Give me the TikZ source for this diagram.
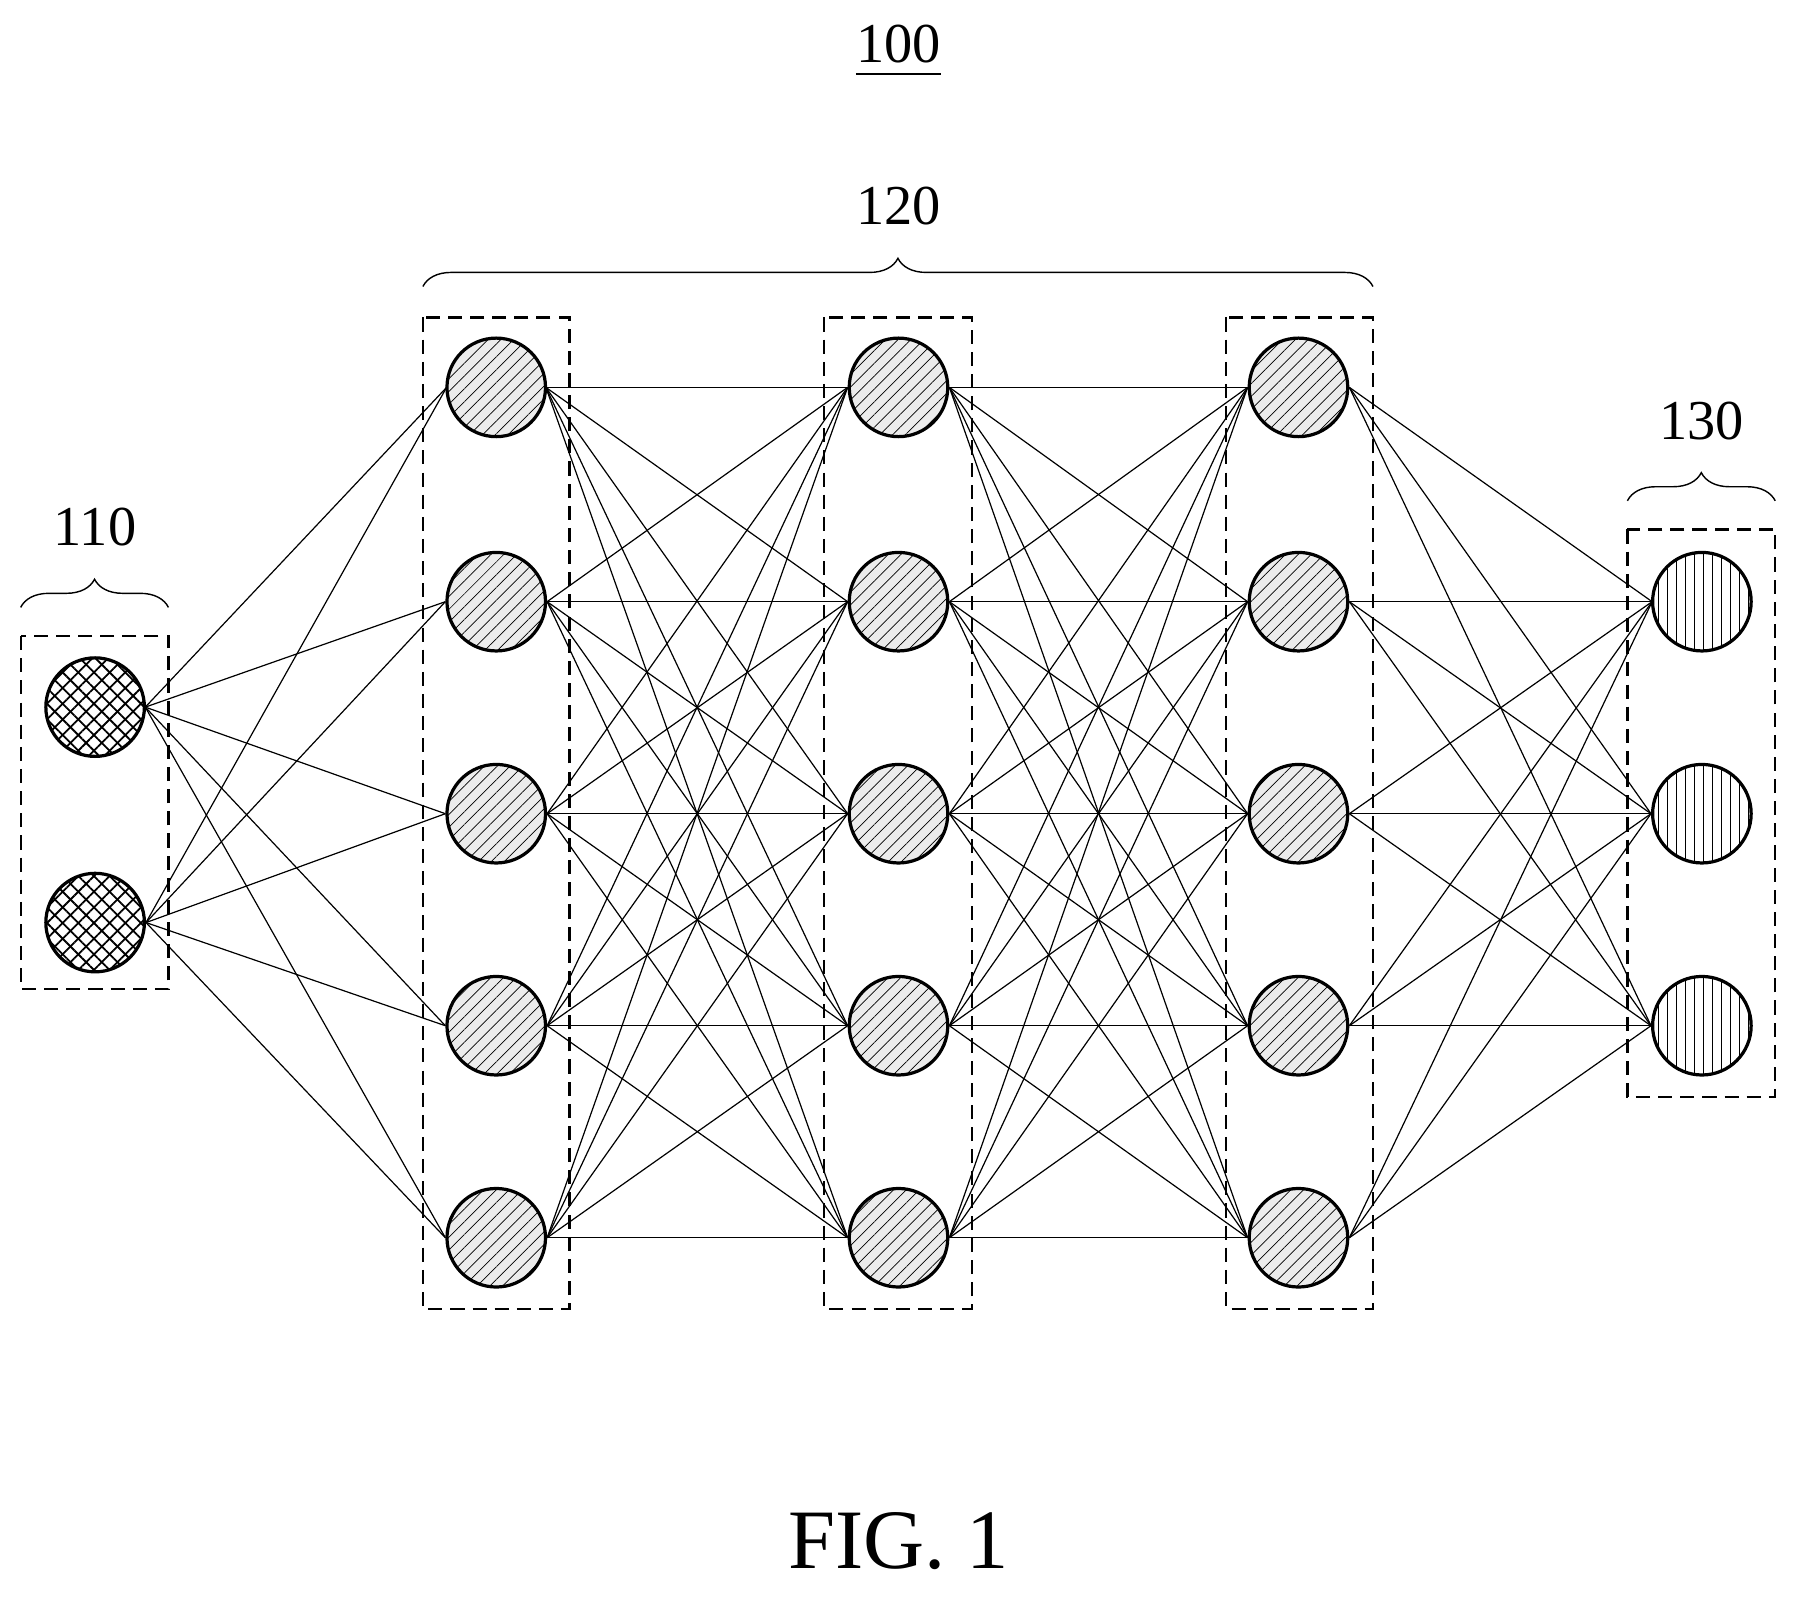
\documentclass[tikz,border=0pt]{standalone}
\usepackage{fontspec}
\setmainfont{Liberation Serif}
\usetikzlibrary{patterns.meta,decorations.pathreplacing}

\tikzset{
  neuron/.style={circle,draw,line width=1.6pt,minimum size=1.72cm,inner sep=0pt},
  inunit/.style={neuron,pattern={Lines[angle=45,distance=5.5pt,line width=0.9pt]},
    postaction={pattern={Lines[angle=-45,distance=5.5pt,line width=0.9pt]}}},
  hidunit/.style={neuron,preaction={fill=gray!15},pattern={Lines[angle=45,distance=4.5pt,line width=0.35pt]}},
  outunit/.style={neuron,pattern={Lines[angle=90,distance=4.5pt,line width=0.5pt]}},
  layerbox/.style={draw,dash pattern=on 7pt off 4pt,line width=1.1pt},
  link/.style={line width=0.6pt},
  grpbrace/.style={decorate,decoration={brace,amplitude=14pt},line width=0.7pt},
  tag/.style={font=\fontsize{28}{30}\selectfont}
}

\begin{document}
\begin{tikzpicture}[x=0.02cm,y=-0.02cm]
  \useasboundingbox (0,0) rectangle (1568,1393);

  % boxes
  \draw[layerbox] (18,555) rectangle (147,863);
  \draw[layerbox] (369,277) rectangle (497,1142);
  \draw[layerbox] (719,277) rectangle (848,1142);
  \draw[layerbox] (1070,277) rectangle (1198,1142);
  \draw[layerbox] (1420,462) rectangle (1549,957);

  % neurons
  \node[inunit] (i1) at (83,617) {};
  \node[inunit] (i2) at (83,805) {};
  \foreach \l/\x in {1/433,2/784,3/1133}
    \foreach \n/\y in {1/338,2/525,3/710,4/895,5/1080}
      \node[hidunit] (h\l\n) at (\x,\y) {};
  \foreach \n/\y in {1/525,2/710,3/895}
    \node[outunit] (o\n) at (1485,\y) {};

  % links
  \foreach \a in {1,2}
    \foreach \b in {1,...,5}
      \draw[link] (i\a.east) -- (h1\b.west);
  \foreach \a in {1,...,5}
    \foreach \b in {1,...,5} {
      \draw[link] (h1\a.east) -- (h2\b.west);
      \draw[link] (h2\a.east) -- (h3\b.west);
    }
  \foreach \a in {1,...,5}
    \foreach \b in {1,2,3}
      \draw[link] (h3\a.east) -- (o\b.west);

  % braces and labels
  \draw[grpbrace] (18,530) -- (147,530);
  \draw[grpbrace] (369,250) -- (1198,250);
  \draw[grpbrace] (1420,437) -- (1549,437);
  \node[tag] (t110) at (83,460) {110};
  \node[tag] (t120) at (784,180) {120};
  \node[tag] (t130) at (1485,367) {130};
  \node[tag,inner sep=0pt] (t100) at (784,38) {100};
  \draw[line width=0.8pt] ([yshift=-6pt]t100.base west) -- ([yshift=-6pt]t100.base east);
  \node[font=\fontsize{42}{46}\selectfont] (fig) at (784,1345) {FIG. 1};
\end{tikzpicture}
\end{document}
